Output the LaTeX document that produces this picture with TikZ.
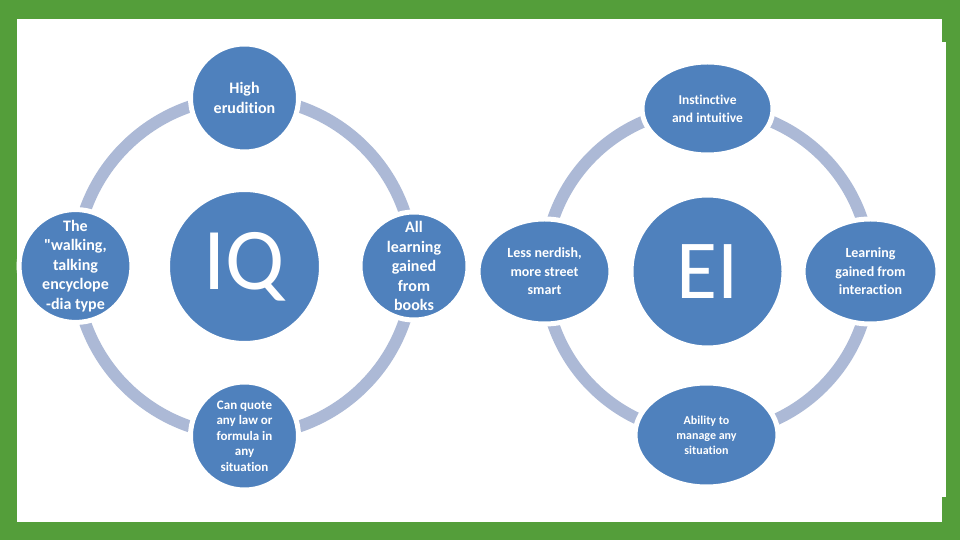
\documentclass[tikz,border=0pt]{standalone}
\usepackage{fontspec}
\setmainfont{Carlito}[Ligatures={TeXOff,CommonOff}]
\usepackage{tikz}
\usetikzlibrary{shapes.geometric,positioning}
\definecolor{frameGreen}{RGB}{84,158,58}
\definecolor{nodeBlue}{RGB}{79,129,189}
\definecolor{ringBlue}{RGB}{172,185,214}

\begin{document}
\begin{tikzpicture}[x=1pt,y=1pt,
  ring/.style={draw=ringBlue,line width=12pt},
  hub/.style={circle,fill=nodeBlue,draw=white,line width=2pt,minimum size=151pt,
              inner sep=0pt,text=white,font=\fontsize{88}{88}\selectfont},
  sat/.style={circle,fill=nodeBlue,draw=white,line width=5pt,minimum size=108pt,
              inner sep=0pt,align=center,text=white,font=\bfseries\fontsize{16}{19.5}\selectfont},
  oval/.style={ellipse,fill=nodeBlue,draw=white,line width=5pt,inner sep=0pt,
              align=center,text=white,font=\bfseries\fontsize{13.5}{18}\selectfont}]
% frame
\fill[frameGreen] (0,0) rectangle (960,540);
\fill[white] (17,18) rectangle (942,521);
\fill[white] (942,43) rectangle (946,498);

% IQ cycle
\node[hub] (iq) at (244.5,273.5) {IQ};
\draw[ring] (iq) circle[radius=169];
\node[sat] (iqtop) at (244.5,442) {High\\erudition};
\node[sat] (iqleft) at (75.5,274) {The\\"walking,\\talking\\encyclope\\-dia type};
\node[sat] (iqright) at (414,274) {All\\learning\\gained\\from\\books};
\node[sat,font=\bfseries\fontsize{13}{15.5}\selectfont] (iqbottom) at (244.5,104)
  {Can quote\\any law or\\formula in\\any\\situation};

% EI cycle
\node[hub,minimum size=150pt,font=\fontsize{84}{84}\selectfont] (ei) at (707.5,268.5) {EI};
\draw[ring] (ei) circle[radius=163];
\node[oval,minimum width=131pt,minimum height=93pt] (eitop) at (707.5,431.5)
  {Instinctive\\and intuitive};
\node[oval,minimum width=133pt,minimum height=105pt,font=\bfseries\fontsize{14}{18.5}\selectfont]
  (eileft) at (544.5,268.5) {Less nerdish,\\more street\\smart};
\node[oval,minimum width=135pt,minimum height=105pt,font=\bfseries\fontsize{14}{18.5}\selectfont]
  (eiright) at (870.5,268.5) {Learning\\gained from\\interaction};
\node[oval,minimum width=143pt,minimum height=104pt,font=\bfseries\fontsize{12}{15}\selectfont]
  (eibottom) at (706.5,105) {Ability to\\manage any\\situation};
\end{tikzpicture}
\end{document}
